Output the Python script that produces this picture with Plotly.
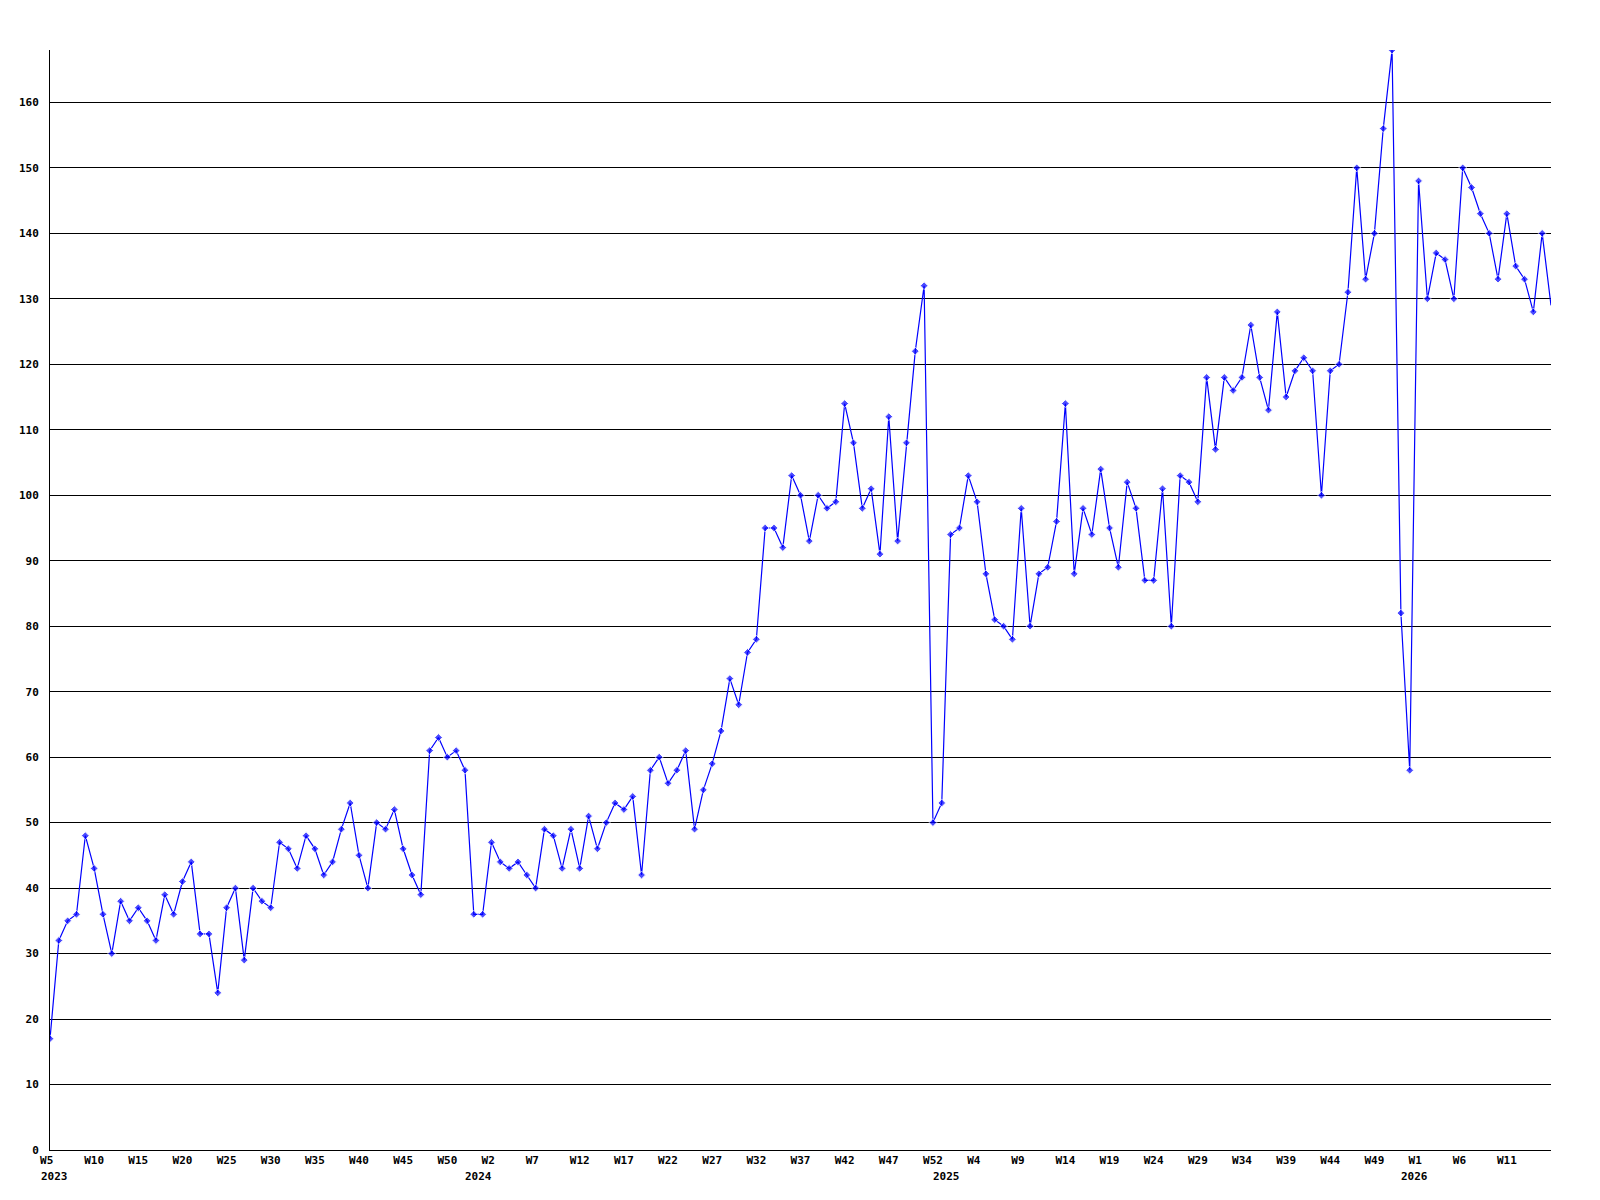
import plotly.graph_objects as go

# Week spans per year: (year, first week, last week)
year_weeks = [(2023, 5, 52), (2024, 0, 52), (2025, 0, 52), (2026, 0, 16)]
categories = [f"{y} W{w}" for (y, a, b) in year_weeks for w in range(a, b + 1)]

values = [
    17, 32, 35, 36, 48, 43, 36, 30, 38, 35, 37, 35, 32, 39, 36, 41, 44, 33, 33, 24,
    37, 40, 29, 40, 38, 37, 47, 46, 43, 48, 46, 42, 44, 49, 53, 45, 40, 50, 49, 52,
    46, 42, 39, 61, 63, 60, 61, 58, 36, 36, 47, 44, 43, 44, 42, 40, 49, 48, 43, 49,
    43, 51, 46, 50, 53, 52, 54, 42, 58, 60, 56, 58, 61, 49, 55, 59, 64, 72, 68, 76,
    78, 95, 95, 92, 103, 100, 93, 100, 98, 99, 114, 108, 98, 101, 91, 112, 93, 108, 122, 132,
    50, 53, 94, 95, 103, 99, 88, 81, 80, 78, 98, 80, 88, 89, 96, 114, 88, 98, 94, 104,
    95, 89, 102, 98, 87, 87, 101, 80, 103, 102, 99, 118, 107, 118, 116, 118, 126, 118, 113, 128,
    115, 119, 121, 119, 100, 119, 120, 131, 150, 133, 140, 156, 168, 82, 58, 148, 130, 137, 136, 130,
    150, 147, 143, 140, 133, 143, 135, 133, 128, 140, 129,
]

tick_cats = categories[0:166:5]
tick_text = [c.split(" ")[1] for c in tick_cats]
year_label_cats = ["2023 W5", "2024 W0", "2025 W0", "2026 W0"]
year_labels = ["2023", "2024", "2025", "2026"]
y_ticks = list(range(0, 161, 10))

FONT = dict(family="DejaVu Sans Mono", size=11, color="black", weight="bold")

# labels in the original are left-aligned slightly before the point; pad to 3 chars
tick_text_padded = [t.ljust(3, "\u00a0") for t in tick_text]

marker_sizes = [6] * len(values)
marker_sizes[-1] = 0

fig = go.Figure()
fig.add_trace(go.Scatter(
    x=categories, y=values, mode="lines+markers",
    line=dict(color="#0000FF", width=1.2),
    marker=dict(symbol="diamond", size=marker_sizes, color="#0000FF"),
    showlegend=False,
))

for cat, lab in zip(year_label_cats, year_labels):
    fig.add_annotation(x=cat, xref="x", y=0, yref="paper", text=lab,
                       showarrow=False, xanchor="left", xshift=-11,
                       yanchor="middle", yshift=-26, font=FONT)

# page body has an 8px default margin, so the figure is sized to compensate
fig.update_layout(
    width=1584, height=1184,
    margin=dict(l=42, r=41, t=42, b=42, autoexpand=False),
    paper_bgcolor="white", plot_bgcolor="white",
    font=FONT,
)
fig.update_xaxes(
    type="category", categoryorder="array", categoryarray=categories,
    range=[0, 170], tickmode="array", tickvals=tick_cats, ticktext=tick_text_padded,
    showgrid=False, showline=True, linecolor="black", linewidth=1,
    ticks="", tickfont=FONT, zeroline=False, automargin=False,
)
fig.update_yaxes(
    range=[0, 168], tickmode="array", tickvals=y_ticks,
    showgrid=True, gridcolor="black", gridwidth=1,
    showline=True, linecolor="black", linewidth=1,
    ticks="", ticklabelstandoff=8, tickfont=FONT, zeroline=False, automargin=False,
)

fig.write_html("out.html")
